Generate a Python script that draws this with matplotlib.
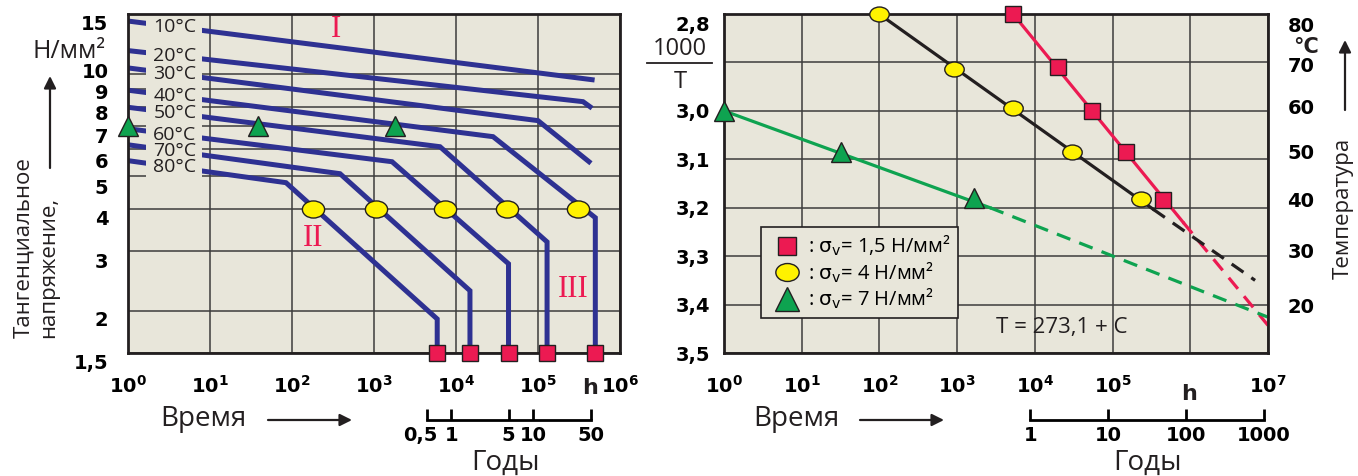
import numpy as np
import matplotlib.pyplot as plt
from matplotlib.path import Path
from matplotlib.transforms import Affine2D, ScaledTranslation
from matplotlib.lines import Line2D
from matplotlib.patches import Rectangle, FancyArrowPatch
from matplotlib.ticker import NullLocator

plt.rcParams['font.family'] = ['Open Sans', 'DejaVu Sans']
plt.rcParams['mathtext.fontset'] = 'dejavusans'

NUM = 'DejaVu Sans'   # bold numerals (Verdana-like in the original)
BG = '#e8e6da'
GRID = '#3c3c3c'
BLUE = '#2e3192'
RED = '#ec1a52'
GREEN = '#0ea350'
YELLOW = '#fff200'
DARK = '#231f20'
TS = 14  # tick label size

# ---- left panel: stress (N/mm2) vs time (h), one curve per temperature
temps = ['10°C', '20°C', '30°C', '40°C', '50°C', '60°C', '70°C', '80°C']
curve_h = [
    [1, 457000],
    [1, 354000, 431000],
    [1, 100000, 419000],
    [1, 28300, 500000, 500000],
    [1, 6380, 129000, 129000],
    [1, 1660, 43700, 43700],
    [1, 385, 14800, 14800],
    [1, 84.5, 5900, 5900],
]
curve_s = [
    [14.3, 9.6],
    [11.7, 8.27, 7.99],
    [10.4, 7.27, 5.50],
    [8.94, 6.52, 3.76, 1.5],
    [7.96, 6.09, 3.19, 1.5],
    [6.88, 5.50, 2.75, 1.5],
    [6.17, 5.07, 2.29, 1.5],
    [5.54, 4.77, 1.89, 1.5],
]
circ_h = [180, 1060, 7340, 41900, 308000]
circ_s = [4, 4, 4, 4, 4]
sq_h = [5900, 14800, 43700, 129000, 500000]
sq_s = [1.5, 1.5, 1.5, 1.5, 1.5]
tri_h = [1, 38.5, 1800]
tri_s = [7, 7, 7]
stress_ticks = [1.5, 2, 3, 4, 5, 6, 7, 8, 9, 10, 15]
stress_labels = ['1,5', '2', '3', '4', '5', '6', '7', '8', '9', '10', '15']
years_left = [0.5, 1, 5, 10, 50]
years_left_lbl = ['0,5', '1', '5', '10', '50']

# ---- right panel: 1000/T vs time (h)
red_h = [5240, 19900, 54500, 149000, 447000]
red_v = [2.80, 2.91, 3.00, 3.085, 3.184]
red_solid_h = [5240, 808000]
red_solid_v = [2.80, 3.23]
red_dash_h = [808000, 1e7]
red_dash_v = [3.23, 3.443]

blk_h = [99, 912, 5240, 30100, 233000]
blk_v = [2.80, 2.914, 2.994, 3.085, 3.182]
blk_solid_h = [99, 332000]
blk_solid_v = [2.80, 3.203]
blk_dash_h = [332000, 6.82e6]
blk_dash_v = [3.203, 3.35]

grn_h = [1, 32, 1650]
grn_v = [3.0, 3.085, 3.18]
grn_solid_h = [1, 2650]
grn_solid_v = [3.0, 3.2]
grn_dash_h = [2650, 1e7]
grn_dash_v = [3.2, 3.426]

inv_ticks = [2.8, 2.9, 3.0, 3.1, 3.2, 3.3, 3.4, 3.5]
inv_labels = ['2,8', '', '3,0', '3,1', '3,2', '3,3', '3,4', '3,5']
temp_ticks = [20, 30, 40, 50, 60, 70, 80]
years_right = [1, 10, 100, 1000]

W, H = 1358, 476
fig = plt.figure(figsize=(W / 100, H / 100), dpi=100)


def fp(x, y):
    return x / W, 1 - y / H


def shift(labels, dx, dy):
    # move tick labels by a few pixels, like in the original drawing
    off = ScaledTranslation(dx / 100, dy / 100, fig.dpi_scale_trans)
    for lab in labels:
        lab.set_transform(lab.get_transform() + off)


ellipse = Path.unit_circle().transformed(Affine2D().scale(1.3, 1.0))


def h_to_years(h):
    return np.asarray(h, float) / 8760


def years_to_h(y):
    return np.asarray(y, float) * 8760


def style_axes(ax):
    ax.set_facecolor(BG)
    ax.set_axisbelow(True)
    ax.grid(True, which='major', color=GRID, lw=1.1)
    ax.xaxis.set_minor_locator(NullLocator())
    ax.yaxis.set_minor_locator(NullLocator())
    for s in ax.spines.values():
        s.set_linewidth(2)
        s.set_color(DARK)
        s.set_zorder(6)
    ax.tick_params(length=0, labelsize=TS)


# ================= left panel
ax1 = fig.add_axes([128 / W, 123 / H, 492 / W, 339 / H])
ax1.set_xscale('log')
ax1.set_yscale('log')
ax1.set_xlim(1, 1e6)
ax1.set_ylim(1.5, 15)
ax1.set_xticks([10.0 ** k for k in range(7)])
ax1.set_xticklabels([r'$\mathbf{10^{%d}}$' % k for k in range(7)])
ax1.set_yticks(stress_ticks)
ax1.set_yticklabels(stress_labels, fontweight='bold', family=NUM)
style_axes(ax1)
ax1.tick_params(axis='y', pad=14)
ax1.tick_params(axis='x', pad=16)
# the printed labels sit a little off their grid lines
for lab, dy in zip(ax1.get_yticklabels(), [-9, -8, -10, -9, -11, -12, -9, -6, -2, 3, -9]):
    shift([lab], 0, dy)

for h, s in zip(curve_h, curve_s):
    ax1.plot(h, s, color=BLUE, lw=3.6, solid_joinstyle='miter', zorder=2)

# mask behind the temperature labels
ax1.add_patch(Rectangle((0.0366, 0.51), 0.1138, 0.49, transform=ax1.transAxes,
                        fc=BG, ec='none', zorder=3))
lx = 3.74
for name, h, s in zip(temps, curve_h, curve_s):
    ly = 10 ** np.interp(np.log10(lx), np.log10(h), np.log10(s))
    ax1.text(lx, ly, name, ha='center', va='center', fontsize=14,
             color=DARK, zorder=4)

ax1.plot(circ_h, circ_s, ls='none', marker=ellipse, ms=16, mfc=YELLOW,
         mec=DARK, mew=1, zorder=5, clip_on=False)
ax1.plot(sq_h, sq_s, ls='none', marker='s', ms=12, mfc=RED, mec=DARK,
         mew=1, zorder=7, clip_on=False)
ax1.plot(tri_h, tri_s, ls='none', marker='^', ms=14, mfc=GREEN, mec=DARK,
         mew=1, zorder=7, clip_on=False)

for txt, x, y in [('I', 0.423, 0.953), ('II', 0.376, 0.339), ('III', 0.904, 0.186)]:
    ax1.text(x, y, txt, transform=ax1.transAxes, ha='center', va='center',
             fontsize=22, color=RED, family='Liberation Serif', zorder=4)

sy1 = ax1.secondary_xaxis(-0.1976, functions=(h_to_years, years_to_h))
sy1.set_xticks(years_left)
sy1.set_xticklabels(years_left_lbl, fontweight='bold', family=NUM)
sy1.xaxis.set_minor_locator(NullLocator())
sy1.spines['bottom'].set_bounds(0.5, 50)
sy1.spines['bottom'].set_linewidth(2)
sy1.tick_params(direction='in', length=8, width=2, labelsize=TS, pad=4)
shift(sy1.get_xticklabels()[:1], -6, 0)

# ================= right panel
ax2 = fig.add_axes([724 / W, 123 / H, 544 / W, 339 / H])
ax2.set_xscale('log')
ax2.set_xlim(1, 1e7)
ax2.set_ylim(3.5, 2.8)
ax2.set_xticks([10.0 ** k for k in range(8)])
ax2.set_xticklabels([r'$\mathbf{10^{%d}}$' % k if k != 6 else '' for k in range(8)])
ax2.set_yticks(inv_ticks)
ax2.set_yticklabels(inv_labels, fontweight='bold', family=NUM)
style_axes(ax2)
ax2.tick_params(axis='y', pad=10)
ax2.tick_params(axis='x', pad=16)
shift(ax2.get_yticklabels()[:1], 0, -9)

dash = (0, (4.5, 3))
ax2.plot(red_solid_h, red_solid_v, color=RED, lw=2.3, zorder=3)
ax2.plot(red_dash_h, red_dash_v, color=RED, lw=2.3, ls=dash, zorder=3)
ax2.plot(blk_solid_h, blk_solid_v, color=DARK, lw=2.3, zorder=3)
ax2.plot(blk_dash_h, blk_dash_v, color=DARK, lw=2.3, ls=dash, zorder=3)
ax2.plot(grn_solid_h, grn_solid_v, color=GREEN, lw=2.3, zorder=3)
ax2.plot(grn_dash_h, grn_dash_v, color=GREEN, lw=2.3, ls=dash, zorder=3)

ax2.plot(red_h, red_v, ls='none', marker='s', ms=11, mfc=RED, mec=DARK, mew=1,
         zorder=7, clip_on=False, label=r': $\mathrm{\sigma_v}$= 1,5 Н/мм²')
ax2.plot(blk_h, blk_v, ls='none', marker=ellipse, ms=14, mfc=YELLOW, mec=DARK,
         mew=1, zorder=7, clip_on=False, label=r': $\mathrm{\sigma_v}$= 4 Н/мм²')
ax2.plot(grn_h, grn_v, ls='none', marker='^', ms=14, mfc=GREEN, mec=DARK,
         mew=1, zorder=7, clip_on=False, label=r': $\mathrm{\sigma_v}$= 7 Н/мм²')

leg = ax2.legend(loc='lower left', bbox_to_anchor=(0.068, 0.103), fontsize=14.5,
                 frameon=True, fancybox=False, facecolor=BG, edgecolor=DARK,
                 framealpha=1, borderaxespad=0, handletextpad=0.1,
                 handlelength=1.9, labelspacing=0.1, borderpad=0.35,
                 markerscale=1.2)
leg.get_frame().set_linewidth(1.2)
leg.set_zorder(8)

ax2.text(0.62, 0.075, 'T = 273,1 + C', transform=ax2.transAxes, ha='center',
         va='center', fontsize=16, color=DARK, zorder=4)


def inv_to_c(v):
    with np.errstate(divide='ignore', invalid='ignore'):
        return 1000 / np.asarray(v, float) - 273.1


def c_to_inv(c):
    with np.errstate(divide='ignore', invalid='ignore'):
        return 1000 / (np.asarray(c, float) + 273.1)


tc = ax2.secondary_yaxis('right', functions=(inv_to_c, c_to_inv))
tc.set_yticks(temp_ticks)
tc.set_yticklabels([str(t) for t in temp_ticks], fontweight='bold', family=NUM)
tc.yaxis.set_minor_locator(NullLocator())
tc.tick_params(length=0, labelsize=TS, pad=14)
tc.spines['right'].set_visible(False)
shift(tc.get_yticklabels(), 0, 5)

sy2 = ax2.secondary_xaxis(-0.1976, functions=(h_to_years, years_to_h))
sy2.set_xticks(years_right)
sy2.set_xticklabels([str(y) for y in years_right], fontweight='bold', family=NUM)
sy2.xaxis.set_minor_locator(NullLocator())
sy2.spines['bottom'].set_bounds(1, 1000)
sy2.spines['bottom'].set_linewidth(2)
sy2.tick_params(direction='in', length=8, width=2, labelsize=TS, pad=4)

# ================= free texts and arrows
fig.text(*fp(69, 52), 'Н/мм²', ha='center', va='center', fontsize=18, color=DARK)
fig.text(*fp(36, 338), 'Тангенциальное\nнапряжение,', rotation=90,
         ha='center', va='bottom', multialignment='left', fontsize=16,
         color=DARK, linespacing=1.25)
fig.text(*fp(590, 388), 'h', ha='center', va='center', fontsize=16,
         fontweight='bold', family=NUM, color=DARK)
fig.text(*fp(1189, 394), 'h', ha='center', va='center', fontsize=16,
         fontweight='bold', family=NUM, color=DARK)
fig.text(*fp(203, 419), 'Время', ha='center', va='center', fontsize=20, color=DARK)
fig.text(*fp(796, 419), 'Время', ha='center', va='center', fontsize=20, color=DARK)
fig.text(*fp(506, 463), 'Годы', ha='center', va='center', fontsize=20, color=DARK)
fig.text(*fp(1147, 463), 'Годы', ha='center', va='center', fontsize=20, color=DARK)
fig.text(*fp(680, 49), '1000', ha='center', va='center', fontsize=17, color=DARK)
fig.text(*fp(680, 82), 'T', ha='center', va='center', fontsize=17, color=DARK)
fig.add_artist(Line2D([647 / W, 712 / W], [1 - 63 / H, 1 - 63 / H], color=DARK, lw=1.3))
fig.text(*fp(1306, 47), '°C', ha='center', va='center', fontsize=15,
         fontweight='bold', family=NUM, color=DARK)
fig.text(*fp(1343, 208), 'Температура', rotation=90, ha='center', va='center',
         fontsize=16, color=DARK)

for a, b in [((268, 420), (352, 420)), ((860, 420), (944, 420)),
             ((50, 168), (50, 76)), ((1345, 110), (1345, 40))]:
    fig.add_artist(FancyArrowPatch(fp(*a), fp(*b), transform=fig.transFigure,
                                   arrowstyle='-|>', mutation_scale=18,
                                   lw=1.6, color=DARK, shrinkA=0, shrinkB=0))

fig.savefig('out.png', dpi=100, facecolor='white')
